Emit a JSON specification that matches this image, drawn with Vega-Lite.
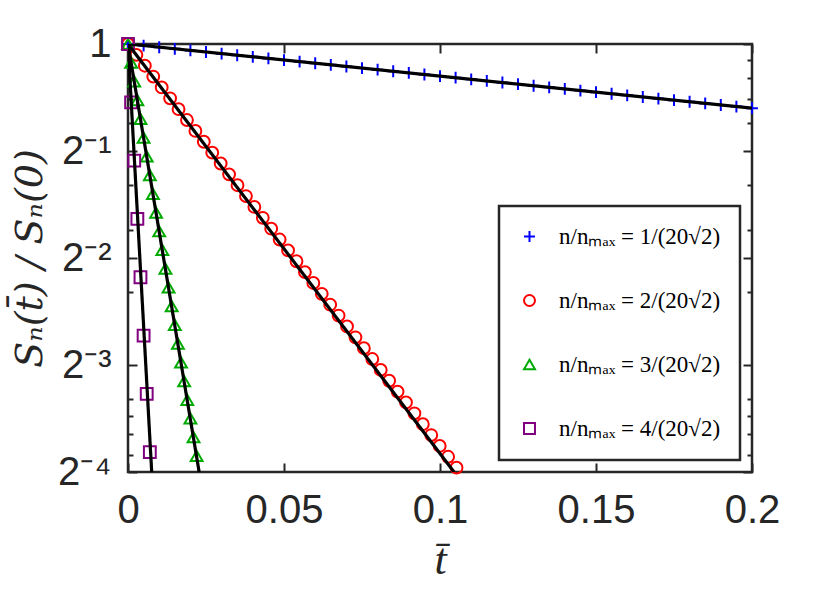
{
  "$schema": "https://vega.github.io/schema/vega-lite/v6.json",
  "width": 624,
  "height": 428,
  "autosize": "none",
  "padding": {"left": 128, "top": 44, "right": 78, "bottom": 121},
  "background": "white",
  "datasets": {
    "markers": [
      {"series": "1", "t": 0, "s": 1},
      {"series": "1", "t": 0.005, "s": 0.98966},
      {"series": "1", "t": 0.01, "s": 0.97942},
      {"series": "1", "t": 0.015, "s": 0.96929},
      {"series": "1", "t": 0.02, "s": 0.95927},
      {"series": "1", "t": 0.025, "s": 0.94934},
      {"series": "1", "t": 0.03, "s": 0.93953},
      {"series": "1", "t": 0.035, "s": 0.92981},
      {"series": "1", "t": 0.04, "s": 0.92019},
      {"series": "1", "t": 0.045, "s": 0.91067},
      {"series": "1", "t": 0.05, "s": 0.90125},
      {"series": "1", "t": 0.055, "s": 0.89193},
      {"series": "1", "t": 0.06, "s": 0.88271},
      {"series": "1", "t": 0.065, "s": 0.87358},
      {"series": "1", "t": 0.07, "s": 0.86454},
      {"series": "1", "t": 0.075, "s": 0.8556},
      {"series": "1", "t": 0.08, "s": 0.84675},
      {"series": "1", "t": 0.085, "s": 0.83799},
      {"series": "1", "t": 0.09, "s": 0.82932},
      {"series": "1", "t": 0.095, "s": 0.82075},
      {"series": "1", "t": 0.1, "s": 0.81225},
      {"series": "1", "t": 0.105, "s": 0.80385},
      {"series": "1", "t": 0.11, "s": 0.79554},
      {"series": "1", "t": 0.115, "s": 0.78731},
      {"series": "1", "t": 0.12, "s": 0.77917},
      {"series": "1", "t": 0.125, "s": 0.77111},
      {"series": "1", "t": 0.13, "s": 0.76313},
      {"series": "1", "t": 0.135, "s": 0.75524},
      {"series": "1", "t": 0.14, "s": 0.74743},
      {"series": "1", "t": 0.145, "s": 0.7397},
      {"series": "1", "t": 0.15, "s": 0.73204},
      {"series": "1", "t": 0.155, "s": 0.72447},
      {"series": "1", "t": 0.16, "s": 0.71698},
      {"series": "1", "t": 0.165, "s": 0.70956},
      {"series": "1", "t": 0.17, "s": 0.70222},
      {"series": "1", "t": 0.175, "s": 0.69496},
      {"series": "1", "t": 0.18, "s": 0.68777},
      {"series": "1", "t": 0.185, "s": 0.68066},
      {"series": "1", "t": 0.19, "s": 0.67362},
      {"series": "1", "t": 0.195, "s": 0.66665},
      {"series": "1", "t": 0.2, "s": 0.65975},
      {"series": "2", "t": 0, "s": 1},
      {"series": "2", "t": 0.0027, "s": 0.93205},
      {"series": "2", "t": 0.0054, "s": 0.86872},
      {"series": "2", "t": 0.0081, "s": 0.80969},
      {"series": "2", "t": 0.0108, "s": 0.75467},
      {"series": "2", "t": 0.0135, "s": 0.70339},
      {"series": "2", "t": 0.0162, "s": 0.6556},
      {"series": "2", "t": 0.0189, "s": 0.61105},
      {"series": "2", "t": 0.0216, "s": 0.56953},
      {"series": "2", "t": 0.0243, "s": 0.53083},
      {"series": "2", "t": 0.027, "s": 0.49476},
      {"series": "2", "t": 0.0297, "s": 0.46114},
      {"series": "2", "t": 0.0324, "s": 0.4298},
      {"series": "2", "t": 0.0351, "s": 0.4006},
      {"series": "2", "t": 0.0378, "s": 0.37338},
      {"series": "2", "t": 0.0405, "s": 0.34801},
      {"series": "2", "t": 0.0432, "s": 0.32436},
      {"series": "2", "t": 0.0459, "s": 0.30232},
      {"series": "2", "t": 0.0486, "s": 0.28178},
      {"series": "2", "t": 0.0513, "s": 0.26263},
      {"series": "2", "t": 0.054, "s": 0.24478},
      {"series": "2", "t": 0.0567, "s": 0.22815},
      {"series": "2", "t": 0.0594, "s": 0.21265},
      {"series": "2", "t": 0.0621, "s": 0.1982},
      {"series": "2", "t": 0.0648, "s": 0.18473},
      {"series": "2", "t": 0.0675, "s": 0.17218},
      {"series": "2", "t": 0.0702, "s": 0.16048},
      {"series": "2", "t": 0.0729, "s": 0.14957},
      {"series": "2", "t": 0.0756, "s": 0.13941},
      {"series": "2", "t": 0.0783, "s": 0.12994},
      {"series": "2", "t": 0.081, "s": 0.12111},
      {"series": "2", "t": 0.0837, "s": 0.11288},
      {"series": "2", "t": 0.0864, "s": 0.10521},
      {"series": "2", "t": 0.0891, "s": 0.09806},
      {"series": "2", "t": 0.0918, "s": 0.0914},
      {"series": "2", "t": 0.0945, "s": 0.08519},
      {"series": "2", "t": 0.0972, "s": 0.0794},
      {"series": "2", "t": 0.0999, "s": 0.074},
      {"series": "2", "t": 0.1026, "s": 0.06898},
      {"series": "2", "t": 0.1053, "s": 0.06429},
      {"series": "3", "t": 0, "s": 1},
      {"series": "3", "t": 0.001, "s": 0.88577},
      {"series": "3", "t": 0.002, "s": 0.78459},
      {"series": "3", "t": 0.003, "s": 0.69496},
      {"series": "3", "t": 0.004, "s": 0.61557},
      {"series": "3", "t": 0.005, "s": 0.54525},
      {"series": "3", "t": 0.006, "s": 0.48297},
      {"series": "3", "t": 0.007, "s": 0.4278},
      {"series": "3", "t": 0.008, "s": 0.37893},
      {"series": "3", "t": 0.009, "s": 0.33564},
      {"series": "3", "t": 0.01, "s": 0.2973},
      {"series": "3", "t": 0.011, "s": 0.26334},
      {"series": "3", "t": 0.012, "s": 0.23326},
      {"series": "3", "t": 0.013, "s": 0.20661},
      {"series": "3", "t": 0.014, "s": 0.18301},
      {"series": "3", "t": 0.015, "s": 0.16211},
      {"series": "3", "t": 0.016, "s": 0.14359},
      {"series": "3", "t": 0.017, "s": 0.12719},
      {"series": "3", "t": 0.018, "s": 0.11266},
      {"series": "3", "t": 0.019, "s": 0.09979},
      {"series": "3", "t": 0.02, "s": 0.08839},
      {"series": "3", "t": 0.021, "s": 0.07829},
      {"series": "3", "t": 0.022, "s": 0.06935},
      {"series": "4", "t": 0, "s": 1},
      {"series": "4", "t": 0.001, "s": 0.68539},
      {"series": "4", "t": 0.002, "s": 0.46976},
      {"series": "4", "t": 0.003, "s": 0.32197},
      {"series": "4", "t": 0.004, "s": 0.22068},
      {"series": "4", "t": 0.005, "s": 0.15125},
      {"series": "4", "t": 0.006, "s": 0.10367},
      {"series": "4", "t": 0.007, "s": 0.07105}
    ],
    "fits": [
      {"series": "1", "t": 0, "s": 1},
      {"series": "1", "t": 0.2, "s": 0.65975},
      {"series": "2", "t": 0, "s": 1},
      {"series": "2", "t": 0.1045, "s": 0.0625},
      {"series": "3", "t": 0, "s": 1},
      {"series": "3", "t": 0.0228, "s": 0.0625},
      {"series": "4", "t": 0, "s": 1},
      {"series": "4", "t": 0.0076, "s": 0.0625}
    ]
  },
  "layer": [
    {
      "data": {"name": "markers"},
      "mark": {"type": "point", "filled": false, "strokeWidth": 2, "size": 140, "opacity": 1},
      "encoding": {
        "x": {
          "field": "t",
          "type": "quantitative",
          "title": "t̄",
          "scale": {"domain": [0, 0.2], "nice": false, "zero": false},
          "axis": {
            "orient": "bottom",
            "values": [0, 0.05, 0.1, 0.15, 0.2],
            "labelExpr": "datum.value == 0 ? '0' : format(datum.value, '~g')",
            "tickSize": -9,
            "labelPadding": 27,
            "titlePadding": 8,
            "titleFont": "Liberation Serif",
            "titleFontStyle": "italic",
            "titleFontWeight": "normal",
            "titleFontSize": 44
          }
        },
        "y": {
          "field": "s",
          "type": "quantitative",
          "title": "Sₙ(t̄) / Sₙ(0)",
          "scale": {"type": "log", "base": 2, "domain": [0.0625, 1], "nice": false},
          "axis": {
            "orient": "left",
            "values": [0.0625, 0.07, 0.08, 0.09, 0.1, 0.125, 0.2, 0.25, 0.3, 0.4, 0.5, 0.6, 0.7, 0.8, 0.9, 1],
            "labelExpr": "datum.value == 1 ? '1' : datum.value == 0.5 ? '2⁻¹' : datum.value == 0.25 ? '2⁻²' : datum.value == 0.125 ? '2⁻³' : datum.value == 0.0625 ? '2⁻⁴' : ''",
            "tickSize": {"condition": {"test": "datum.value == 1 || datum.value == 0.5 || datum.value == 0.25 || datum.value == 0.125 || datum.value == 0.0625", "value": -9}, "value": -5},
            "labelPadding": 26,
            "titlePadding": 8,
            "titleFont": "DejaVu Serif",
            "titleFontStyle": "italic",
            "titleFontWeight": "normal",
            "titleFontSize": 38
          }
        },
        "color": {
          "field": "series",
          "type": "nominal",
          "scale": {"domain": ["1", "2", "3", "4"], "range": ["#0000ff", "#ff0000", "#00aa00", "#800080"]},
          "legend": {
            "title": null,
            "orient": "none",
            "legendX": 371,
            "legendY": 162,
            "labelExpr": "'n/nₘₐₓ = ' + datum.label + '/(20√2)'"
          }
        },
        "shape": {
          "field": "series",
          "type": "nominal",
          "scale": {"domain": ["1", "2", "3", "4"], "range": ["M-1,0L1,0M0,-1L0,1", "circle", "triangle-up", "square"]},
          "legend": {
            "title": null,
            "orient": "none",
            "legendX": 371,
            "legendY": 162,
            "labelExpr": "'n/nₘₐₓ = ' + datum.label + '/(20√2)'"
          }
        }
      }
    },
    {
      "data": {"name": "fits"},
      "mark": {"type": "line", "color": "black", "strokeWidth": 3.2, "clip": true},
      "encoding": {
        "x": {
          "field": "t",
          "type": "quantitative",
          "axis": {"orient": "top", "values": [0, 0.05, 0.1, 0.15, 0.2], "labels": false, "tickSize": -9, "title": null}
        },
        "y": {
          "field": "s",
          "type": "quantitative",
          "axis": {
            "orient": "right",
            "values": [0.0625, 0.07, 0.08, 0.09, 0.1, 0.125, 0.2, 0.25, 0.3, 0.4, 0.5, 0.6, 0.7, 0.8, 0.9, 1],
            "labels": false,
            "tickSize": {"condition": {"test": "datum.value == 1 || datum.value == 0.5 || datum.value == 0.25 || datum.value == 0.125 || datum.value == 0.0625", "value": -9}, "value": -5},
            "title": null
          }
        },
        "detail": {"field": "series", "type": "nominal"}
      }
    }
  ],
  "resolve": {"axis": {"x": "independent", "y": "independent"}},
  "config": {
    "view": {"stroke": "#262626", "strokeWidth": 2.5},
    "axis": {
      "domain": false,
      "grid": false,
      "ticks": true,
      "tickColor": "#262626",
      "tickWidth": 2,
      "labelFont": "Liberation Sans",
      "labelFontSize": 40,
      "labelColor": "#262626",
      "labelFlush": false,
      "labelOverlap": false,
      "labelBound": false,
      "titleColor": "#262626"
    },
    "legend": {
      "fillColor": "white",
      "strokeColor": "#262626",
      "strokeWidth": 2.5,
      "padding": 19,
      "rowPadding": 40,
      "labelFont": "Liberation Serif",
      "labelFontSize": 23,
      "labelColor": "black",
      "labelOffset": 18,
      "symbolSize": 120,
      "symbolStrokeWidth": 2,
      "labelLimit": 400
    }
  }
}
